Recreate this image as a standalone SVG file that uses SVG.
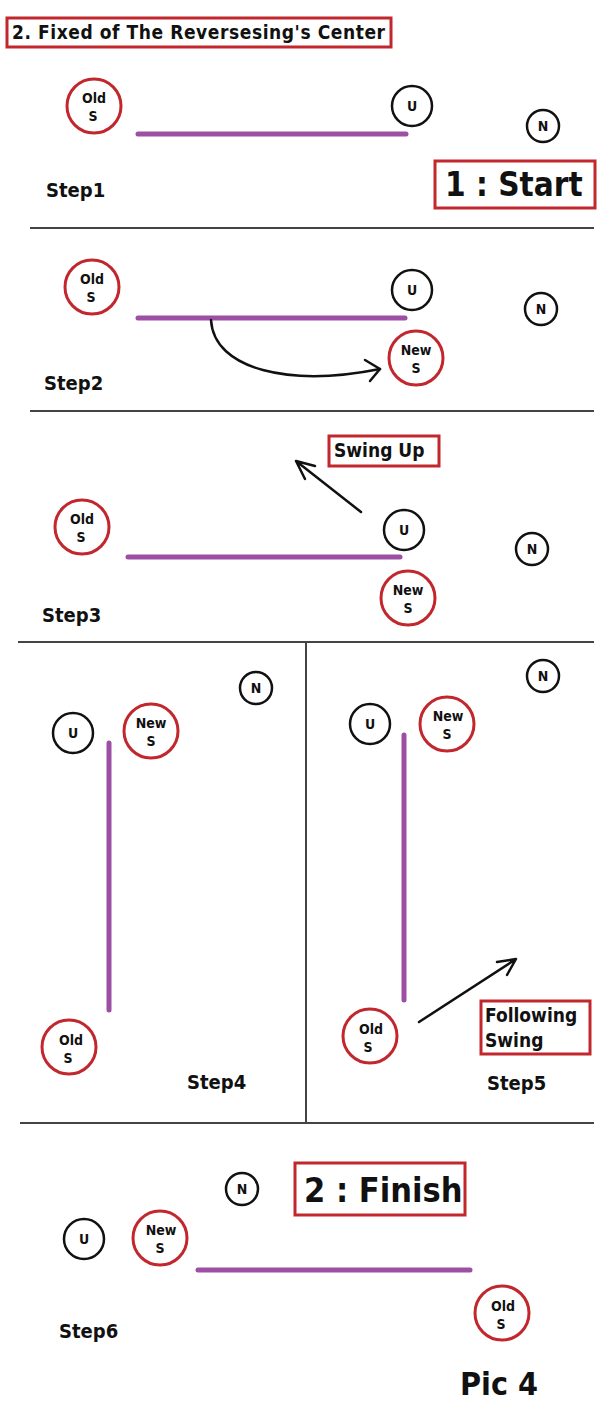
<svg xmlns="http://www.w3.org/2000/svg" width="616" height="1423" viewBox="0 0 616 1423">
<style>
text{font-family:"DejaVu Sans Condensed","Liberation Sans",sans-serif;font-weight:bold;fill:#111}
.red{fill:#fff;stroke:#c1272d;stroke-width:3}
.blk{fill:#fff;stroke:#111;stroke-width:2.5}
.box{fill:#fff;stroke:#c1272d;stroke-width:3}
.bar{stroke:#9c4fa3;stroke-width:5;stroke-linecap:round;fill:none}
.sep{stroke:#444;stroke-width:2;fill:none}
.arr{stroke:#111;stroke-width:2.5;fill:none;stroke-linecap:round;stroke-linejoin:round}
.lab{font-size:14px;text-anchor:middle}
.step{font-size:20px}
</style>
<g id="title"><rect class="box" x="7" y="18" width="384" height="29"/><text x="12" y="39" font-size="19" textLength="373">2. Fixed of The Reversesing's Center</text></g>
<g id="connectors">
<line class="sep" x1="30" y1="228" x2="594" y2="228"/>
<line class="sep" x1="30" y1="411" x2="594" y2="411"/>
<line class="sep" x1="18" y1="642" x2="594" y2="642"/>
<line class="sep" x1="306" y1="642" x2="306" y2="1123"/>
<line class="sep" x1="20" y1="1123" x2="594" y2="1123"/>
<line class="bar" x1="138" y1="134" x2="406" y2="134"/>
<line class="bar" x1="138" y1="318" x2="405" y2="318"/>
<line class="bar" x1="128" y1="557" x2="400" y2="557"/>
<line class="bar" x1="109" y1="743" x2="109" y2="1010"/>
<line class="bar" x1="404" y1="735" x2="404" y2="1000"/>
<line class="bar" x1="198" y1="1270" x2="470" y2="1270"/>
<path class="arr" d="M211,320 C214,370 290,387 380,369"/>
<path class="arr" d="M365,360 L380,369 L370,381"/>
<path class="arr" d="M361,512 L296,461 M296,461 L305,479 M296,461 L315,466"/>
<path class="arr" d="M419,1022 L516,959 M516,959 L497,962 M516,959 L507,975"/>
</g>
<g id="step1">
<circle class="red" cx="94" cy="106" r="27"/><text class="lab" x="94" y="103">Old</text><text class="lab" x="93" y="121">S</text>
<circle class="blk" cx="412" cy="106" r="20"/><text class="lab" x="412" y="111">U</text>
<circle class="blk" cx="543" cy="126" r="16"/><text class="lab" x="543" y="131">N</text>
<text class="step" x="46" y="197">Step1</text>
<rect class="box" x="435" y="161" width="160" height="47"/><text x="445" y="196" font-size="33">1 : Start</text>
</g>
<g id="step2">
<circle class="red" cx="92" cy="287" r="27"/><text class="lab" x="92" y="284">Old</text><text class="lab" x="91" y="302">S</text>
<circle class="blk" cx="412" cy="290" r="20"/><text class="lab" x="412" y="295">U</text>
<circle class="blk" cx="541" cy="309" r="16"/><text class="lab" x="541" y="314">N</text>
<circle class="red" cx="416" cy="358" r="27"/><text class="lab" x="416" y="355">New</text><text class="lab" x="416" y="373">S</text>
<text class="step" x="44" y="390">Step2</text>
</g>
<g id="step3">
<rect class="box" x="329" y="436" width="110" height="30"/><text x="334" y="457" font-size="19">Swing Up</text>
<circle class="red" cx="82" cy="527" r="27"/><text class="lab" x="82" y="524">Old</text><text class="lab" x="81" y="542">S</text>
<circle class="blk" cx="404" cy="530" r="20"/><text class="lab" x="404" y="535">U</text>
<circle class="blk" cx="532" cy="549" r="16"/><text class="lab" x="532" y="554">N</text>
<circle class="red" cx="408" cy="598" r="27"/><text class="lab" x="408" y="595">New</text><text class="lab" x="408" y="613">S</text>
<text class="step" x="42" y="622">Step3</text>
</g>
<g id="step4">
<circle class="blk" cx="256" cy="688" r="16"/><text class="lab" x="256" y="693">N</text>
<circle class="blk" cx="73" cy="733" r="20"/><text class="lab" x="73" y="738">U</text>
<circle class="red" cx="151" cy="731" r="27"/><text class="lab" x="151" y="728">New</text><text class="lab" x="151" y="746">S</text>
<circle class="red" cx="69" cy="1047" r="27"/><text class="lab" x="71" y="1045">Old</text><text class="lab" x="68" y="1063">S</text>
<text class="step" x="187" y="1089">Step4</text>
</g>
<g id="step5">
<circle class="blk" cx="543" cy="676" r="16"/><text class="lab" x="543" y="681">N</text>
<circle class="blk" cx="370" cy="724" r="20"/><text class="lab" x="370" y="729">U</text>
<circle class="red" cx="447" cy="724" r="27"/><text class="lab" x="448" y="721">New</text><text class="lab" x="447" y="739">S</text>
<circle class="red" cx="370" cy="1036" r="27"/><text class="lab" x="371" y="1034">Old</text><text class="lab" x="368" y="1052">S</text>
<rect class="box" x="481" y="1001" width="109" height="53"/><text x="485" y="1022" font-size="19">Following</text><text x="485" y="1047" font-size="19">Swing</text>
<text class="step" x="487" y="1090">Step5</text>
</g>
<g id="step6">
<circle class="blk" cx="242" cy="1189" r="16"/><text class="lab" x="242" y="1194">N</text>
<rect class="box" x="295" y="1163" width="170" height="52"/><text x="304" y="1202" font-size="34">2 : Finish</text>
<circle class="blk" cx="84" cy="1239" r="20"/><text class="lab" x="84" y="1244">U</text>
<circle class="red" cx="160" cy="1238" r="27"/><text class="lab" x="161" y="1235">New</text><text class="lab" x="160" y="1253">S</text>
<circle class="red" cx="502" cy="1313" r="27"/><text class="lab" x="503" y="1311">Old</text><text class="lab" x="501" y="1329">S</text>
<text class="step" x="59" y="1338">Step6</text>
<text x="460" y="1395" font-size="32">Pic 4</text>
</g>
</svg>
